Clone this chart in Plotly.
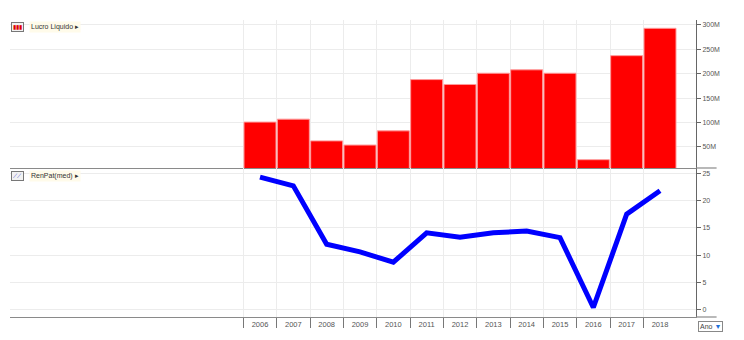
import plotly.graph_objects as go

# Annual data
anos = [2006, 2007, 2008, 2009, 2010, 2011, 2012, 2013, 2014, 2015, 2016, 2017, 2018]
lucro_liquido_m = [101, 107, 62.5, 54, 83, 188, 178, 201, 208, 201, 24, 237, 293]
renpat_med = [24.3, 22.7, 12.0, 10.6, 8.7, 14.1, 13.3, 14.1, 14.4, 13.2, 0.4, 17.5, 21.8]
lucro_ticks = [50, 100, 150, 200, 250, 300]
lucro_labels = [f"{v}M" for v in lucro_ticks]
renpat_ticks = [0, 5, 10, 15, 20, 25]

limites = [a - 0.5 for a in anos]  # year separators
x_range = [anos[0] - 7.5, anos[-1] + 1.08]

FONT = "Liberation Sans"
GRID = "#ececec"
AXIS = "#666666"

fig = go.Figure()

fig.add_trace(go.Bar(
    x=anos, y=lucro_liquido_m, name="Lucro Liquido",
    marker=dict(color="#ff0000", line=dict(color="#ff9a9a", width=1)),
    xaxis="x", yaxis="y", showlegend=False,
))

fig.add_trace(go.Scatter(
    x=anos, y=renpat_med, name="RenPat(med)", mode="lines",
    line=dict(color="#0000ff", width=5),
    xaxis="x2", yaxis="y2", showlegend=False,
))

split = 0.5017

common_x = dict(
    range=x_range, showgrid=False, zeroline=False,
    showline=True, linecolor="#8a8a8a", linewidth=1.2,
    minor=dict(tickvals=limites, showgrid=True, gridcolor=GRID, gridwidth=1),
)

fig.update_layout(
    width=744, height=340,
    margin=dict(l=10, r=48, t=20, b=23),
    paper_bgcolor="white", plot_bgcolor="white",
    bargap=0.04,
    font=dict(family=FONT, size=8, color="#444"),
    xaxis=dict(common_x, anchor="y", showticklabels=False, ticks=""),
    xaxis2=dict(
        common_x, anchor="y2", matches="x",
        tickvals=anos, ticktext=[str(a) for a in anos], ticks="",
        tickfont=dict(family=FONT, size=7.5, color="#555"),
        minor=dict(tickvals=limites, showgrid=True, gridcolor=GRID, gridwidth=1,
                   ticks="outside", ticklen=10, tickcolor="#777", tickwidth=1),
    ),
    yaxis=dict(
        domain=[split, 1], side="right", anchor="x",
        range=[7, 310], tickvals=lucro_ticks, ticktext=lucro_labels,
        showgrid=True, gridcolor=GRID, zeroline=False,
        showline=True, linecolor=AXIS, linewidth=1,
        ticks="outside", ticklen=4, tickcolor=AXIS,
        tickfont=dict(family=FONT, size=7, color="#555"),
    ),
    yaxis2=dict(
        domain=[0, split], side="right", anchor="x2",
        range=[-1.34, 25.97], tickvals=renpat_ticks,
        showgrid=True, gridcolor=GRID, zeroline=False,
        showline=True, linecolor=AXIS, linewidth=1,
        ticks="outside", ticklen=4, tickcolor=AXIS,
        tickfont=dict(family=FONT, size=7, color="#555"),
    ),
)

# Panel separators extend a little past the value axis
for yv in (split, 0):
    fig.add_shape(type="line", xref="paper", yref="paper",
                  x0=1.0, x1=1.03, y0=yv, y1=yv,
                  line=dict(color="#8a8a8a", width=1.2))

# Series captions in the panel corners
def caption(y_paper, icon, label):
    fig.add_annotation(
        xref="paper", yref="paper", x=0.002, y=y_paper, xanchor="left", yanchor="middle",
        text=icon, showarrow=False, bordercolor="#777", borderwidth=1, borderpad=1,
        bgcolor="#f2f2f2", font=dict(size=6),
    )
    fig.add_annotation(
        xref="paper", yref="paper", x=0.027, y=y_paper, xanchor="left", yanchor="middle",
        text=label + " ▸", showarrow=False, bgcolor="#fffbea",
        font=dict(family=FONT, size=7, color="#333"),
    )

caption(0.975, "<span style='color:#e00000'>▮▮▮</span>", "Lucro Liquido")
caption(split - 0.027, "<span style='color:#3a3ac8'>⟋⟋</span>", "RenPat(med)")

# Period selector
fig.add_annotation(
    xref="paper", yref="paper", x=1.003, y=-0.012, xanchor="left", yanchor="top",
    text="Ano <span style='color:#1e6fd9'>▼</span>", showarrow=False,
    bordercolor="#888", borderwidth=1, borderpad=1, bgcolor="white",
    font=dict(family=FONT, size=7, color="#444"),
)

fig.write_html("out.html")
